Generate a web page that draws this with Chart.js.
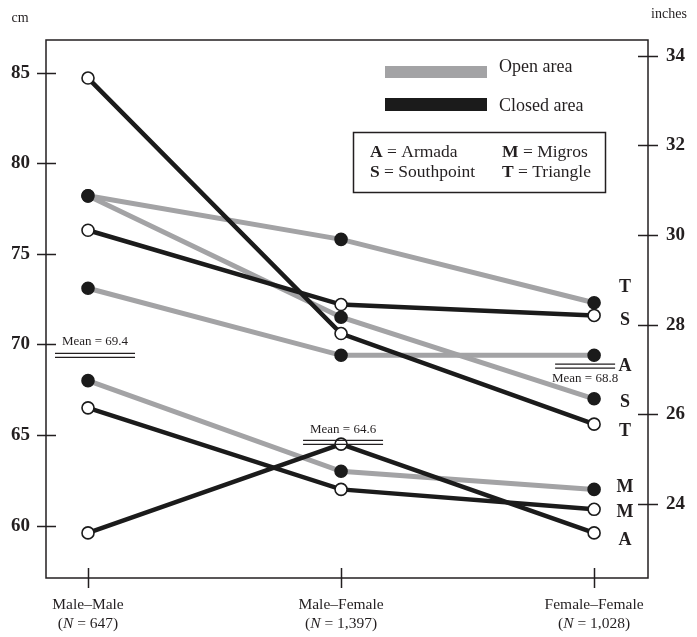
<!DOCTYPE html>
<html><head><meta charset="utf-8">
<script src="https://cdn.jsdelivr.net/npm/chart.js@4/dist/chart.umd.min.js"></script>
<style>html,body{margin:0;padding:0;background:#fff}#wrap{width:697px;height:637px;position:relative}</style>
</head><body><div id="wrap"><canvas id="c"></canvas></div>
<script>
const categories = ['Male–Male', 'Male–Female', 'Female–Female'];
const sampleSizes = ['647', '1,397', '1,028'];
const openTriangle = [78.2, 75.8, 72.3];
const openSouthpoint = [78.2, 71.5, 67.0];
const openArmada = [73.1, 69.4, 69.4];
const openMigros = [68.0, 63.0, 62.0];
const closedTriangle = [84.7, 70.6, 65.6];
const closedSouthpoint = [76.3, 72.2, 71.6];
const closedArmada = [59.6, 64.5, 59.6];
const closedMigros = [66.5, 62.0, 60.9];
const meanValues = [69.4, 64.6, 68.8];
const cmTicks = [60, 65, 70, 75, 80, 85];
const inchTicks = [24, 26, 28, 30, 32, 34];
const siteKey = [['A', 'Armada'], ['M', 'Migros'], ['S', 'Southpoint'], ['T', 'Triangle']];
const areaNames = ['Open area', 'Closed area'];

const FONT = '"Liberation Serif", "Times New Roman", serif';
const GRAY = '#a3a3a5', BLACK = '#1b1b1b', INK = '#231f20';

function series(values, closed, letter, dy) {
  return {
    data: values.map((v, i) => ({x: i, y: v})),
    borderColor: closed ? BLACK : GRAY,
    borderWidth: closed ? 4.5 : 5,
    pointRadius: 6,
    pointBorderWidth: 1.6,
    pointBackgroundColor: closed ? '#ffffff' : BLACK,
    pointBorderColor: BLACK,
    tension: 0,
    letter: letter,
    letterDy: dy,
    yAxisID: 'y'
  };
}

const datasets = [
  series(closedTriangle, true, 'T', 7),
  series(closedSouthpoint, true, 'S', 5),
  series(closedArmada, true, 'A', 7),
  series(closedMigros, true, 'M', 3),
  series(openTriangle, false, 'T', -15),
  series(openSouthpoint, false, 'S', 4),
  series(openArmada, false, 'A', 11),
  series(openMigros, false, 'M', -2)
];

const meanStyle = [
  {dx: 7, w: 80, textDy: -14},
  {dx: 2, w: 80, textDy: -13},
  {dx: -9, w: 60, textDy: 12}
];

const decor = {
  id: 'decor',
  afterDraw(chart) {
    const {ctx, chartArea: a, scales} = chart;
    const x = scales.x, yl = scales.y, yr = scales.y2;
    ctx.save();
    ctx.strokeStyle = INK;
    ctx.lineWidth = 1.5;
    ctx.strokeRect(a.left, a.top, a.right - a.left, a.bottom - a.top);
    ctx.beginPath();
    cmTicks.forEach(v => { const p = Math.round(yl.getPixelForValue(v)) + 0.5; ctx.moveTo(a.left - 9, p); ctx.lineTo(a.left + 10, p); });
    inchTicks.forEach(v => { const p = Math.round(yr.getPixelForValue(v)) + 0.5; ctx.moveTo(a.right - 10, p); ctx.lineTo(a.right + 10, p); });
    categories.forEach((c, i) => { const p = Math.round(x.getPixelForValue(i)) + 0.5; ctx.moveTo(p, a.bottom - 10); ctx.lineTo(p, a.bottom + 10); });
    ctx.stroke();

    // x labels
    ctx.fillStyle = INK;
    ctx.textBaseline = 'middle';
    categories.forEach((c, i) => {
      const px = x.getPixelForValue(i);
      ctx.font = '15.5px ' + FONT;
      ctx.textAlign = 'center';
      ctx.fillText(c, px, a.bottom + 27);
      const parts = [['(', '15.5px '], ['N', 'italic 15.5px '], [' = ' + sampleSizes[i] + ')', '15.5px ']];
      let total = 0;
      parts.forEach(p => { ctx.font = p[1] + FONT; total += ctx.measureText(p[0]).width; });
      let cx = px - total / 2;
      ctx.textAlign = 'left';
      parts.forEach(p => { ctx.font = p[1] + FONT; ctx.fillText(p[0], cx, a.bottom + 46); cx += ctx.measureText(p[0]).width; });
    });

    // unit labels
    ctx.font = '14px ' + FONT;
    ctx.textAlign = 'center';
    ctx.fillText('cm', 20, 18);
    ctx.fillText('inches', 669, 14);

    // mean markers
    meanValues.forEach((m, i) => {
      const st = meanStyle[i];
      const cx = x.getPixelForValue(i) + st.dx;
      const p = yl.getPixelForValue(m);
      ctx.lineWidth = 1.3;
      ctx.strokeStyle = INK;
      ctx.beginPath();
      ctx.moveTo(cx - st.w / 2, p - 2); ctx.lineTo(cx + st.w / 2, p - 2);
      ctx.moveTo(cx - st.w / 2, p + 2); ctx.lineTo(cx + st.w / 2, p + 2);
      ctx.stroke();
      ctx.font = '13px ' + FONT;
      ctx.textAlign = 'center';
      ctx.fillText('Mean = ' + m.toFixed(1), cx, p + st.textDy);
    });

    // right-side letters
    ctx.font = 'bold 18px ' + FONT;
    ctx.textAlign = 'center';
    chart.data.datasets.forEach(ds => {
      const last = ds.data[ds.data.length - 1];
      ctx.fillText(ds.letter, x.getPixelForValue(last.x) + 31, yl.getPixelForValue(last.y) + ds.letterDy);
    });

    // legend bars
    ctx.fillStyle = GRAY;
    ctx.fillRect(385, 66, 102, 12);
    ctx.fillStyle = BLACK;
    ctx.fillRect(385, 98, 102, 13);
    ctx.fillStyle = INK;
    ctx.font = '18px ' + FONT;
    ctx.textAlign = 'left';
    ctx.fillText(areaNames[0], 499, 67);
    ctx.fillText(areaNames[1], 499, 106);

    // key box
    ctx.lineWidth = 1.5;
    ctx.strokeRect(353.5, 132.5, 252, 60);
    const pos = [[370, 152], [502, 152], [370, 172], [502, 172]];
    siteKey.forEach((k, i) => {
      ctx.font = 'bold 17.5px ' + FONT;
      ctx.fillText(k[0], pos[i][0], pos[i][1]);
      const w = ctx.measureText(k[0]).width;
      ctx.font = '17.5px ' + FONT;
      ctx.fillText(' = ' + k[1], pos[i][0] + w, pos[i][1]);
    });
    ctx.restore();
  }
};

const tickFont = {family: FONT, size: 19, weight: 'bold'};

new Chart(document.getElementById('c'), {
  type: 'line',
  data: {datasets},
  options: {
    responsive: true,
    maintainAspectRatio: false,
    animation: false,
    layout: {padding: {top: 40, left: 0, right: 0, bottom: 0}},
    plugins: {legend: {display: false}, tooltip: {enabled: false}},
    scales: {
      x: {
        type: 'linear', min: -0.166, max: 2.213,
        grid: {display: false, drawTicks: false}, border: {display: false},
        ticks: {display: false},
        afterFit(s) { s.height = 59; }
      },
      y: {
        type: 'linear', position: 'left', min: 57.11, max: 86.80,
        afterBuildTicks(s) { s.ticks = cmTicks.map(v => ({value: v})); },
        grid: {display: false, drawTicks: false}, border: {display: false},
        ticks: {font: tickFont, color: INK, padding: 16},
        afterFit(s) { s.width = 46; }
      },
      y2: {
        type: 'linear', position: 'right', min: 22.35, max: 34.35,
        afterBuildTicks(s) { s.ticks = inchTicks.map(v => ({value: v})); },
        grid: {display: false, drawTicks: false}, border: {display: false},
        ticks: {font: tickFont, color: INK, padding: 18},
        afterFit(s) { s.width = 49; }
      }
    }
  },
  plugins: [decor]
});
</script>
</body></html>
